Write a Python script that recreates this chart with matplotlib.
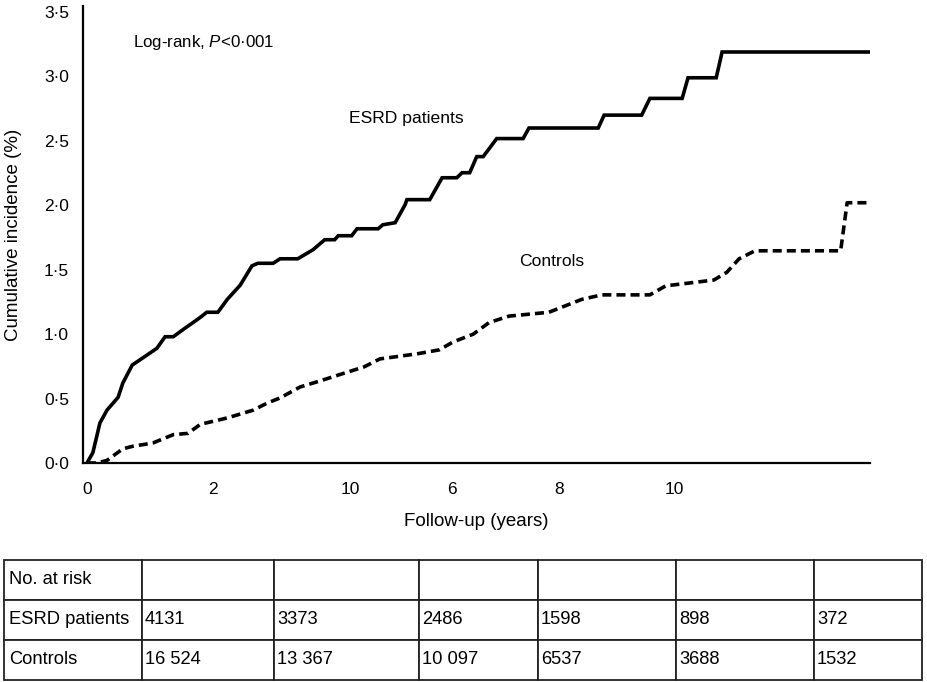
import matplotlib
matplotlib.use("Agg")
import matplotlib.pyplot as plt
import matplotlib.transforms as mtransforms

plt.rcParams['font.family'] = ['Liberation Sans', 'DejaVu Sans']
plt.rcParams['mathtext.fontset'] = 'custom'
plt.rcParams['mathtext.it'] = 'Liberation Sans:italic'
plt.rcParams['mathtext.rm'] = 'Liberation Sans'

# ---- data ----
esrd_years = [0.0, 0.10, 0.22, 0.34, 0.53, 0.61, 0.77, 0.90, 1.19, 1.33, 1.47, 1.62,
              1.93, 2.04, 2.23, 2.39, 2.61, 2.81, 2.91, 3.17, 3.29, 3.59, 3.85, 4.05,
              4.22, 4.28, 4.51, 4.60, 4.96, 5.04, 5.25, 5.42, 5.45, 5.84, 6.05, 6.30,
              6.39, 6.52, 6.64, 6.75, 6.98, 7.43, 7.53, 8.71, 8.81, 9.45, 9.59, 10.14,
              10.24, 10.72, 10.82, 13.32]
esrd_inc = [0.0, 0.08, 0.31, 0.41, 0.51, 0.62, 0.76, 0.80, 0.89, 0.98, 0.98, 1.03,
            1.13, 1.17, 1.17, 1.27, 1.38, 1.53, 1.55, 1.55, 1.585, 1.585, 1.655, 1.733,
            1.733, 1.764, 1.764, 1.818, 1.818, 1.849, 1.865, 2.005, 2.044, 2.044, 2.214, 2.214,
            2.253, 2.253, 2.378, 2.378, 2.518, 2.518, 2.60, 2.60, 2.70, 2.70, 2.83, 2.83,
            2.99, 2.99, 3.19, 3.19]

ctrl_years = [0.0, 0.17, 0.34, 0.61, 0.78, 1.12, 1.47, 1.72, 1.93, 2.39, 2.83, 3.07,
              3.29, 3.63, 3.97, 4.40, 4.72, 4.99, 5.62, 6.00, 6.24, 6.58, 6.85, 7.19,
              7.87, 8.43, 8.77, 9.59, 9.86, 10.68, 10.90, 11.11, 11.38, 12.84, 12.95, 13.32]
ctrl_inc = [0.0, 0.0, 0.02, 0.11, 0.13, 0.155, 0.22, 0.23, 0.30, 0.35, 0.41, 0.465,
            0.505, 0.59, 0.637, 0.70, 0.746, 0.808, 0.847, 0.878, 0.94, 1.0, 1.09, 1.14,
            1.17, 1.27, 1.305, 1.305, 1.375, 1.42, 1.48, 1.585, 1.647, 1.647, 2.02, 2.02]

x_tick_pos = [0, 2.15, 4.48, 6.22, 8.04, 10.0]
x_tick_labels = ['0', '2', '10', '6', '8', '10']
y_ticks = [0.0, 0.5, 1.0, 1.5, 2.0, 2.5, 3.0, 3.5]

table_header = ['No. at risk', '', '', '', '', '', '']
esrd_risk = ['4131', '3373', '2486', '1598', '898', '372']
ctrl_risk = ['16 524', '13 367', '10 097', '6537', '3688', '1532']
row_names = ['ESRD patients', 'Controls']

# ---- figure ----
W, H = 928, 682
fig = plt.figure(figsize=(W / 100, H / 100), dpi=100)
ax = fig.add_axes([83 / W, (H - 463) / H, 787 / W, 457 / H])

ax.plot(esrd_years, esrd_inc, color='black', lw=2.6, solid_joinstyle='miter')
ax.plot(ctrl_years, ctrl_inc, color='black', lw=2.6, dashes=(2.5, 1.4))

ax.set_xlim(-0.068, 13.34)
ax.set_ylim(0, 3.547)
for s in ['top', 'right']:
    ax.spines[s].set_visible(False)
for s in ['left', 'bottom']:
    ax.spines[s].set_linewidth(1.6)
    ax.spines[s].set_color('black')

ax.set_xticks(x_tick_pos)
ax.set_xticklabels(x_tick_labels)
ax.set_yticks(y_ticks)
ax.set_yticklabels([f"{v:.1f}".replace('.', '·') for v in y_ticks])
ax.tick_params(axis='both', length=0, labelsize=12.5)
ax.tick_params(axis='y', pad=10)
ax.tick_params(axis='x', pad=14)

ax.set_xlabel('Follow-up (years)', fontsize=13.5, labelpad=11)
ax.set_ylabel('Cumulative incidence (%)', fontsize=13.5)
ax.yaxis.set_label_coords(-61 / 787, 0.5)

# pixel transform (pixels from top-left corner)
pix = mtransforms.Affine2D().scale(1, -1).translate(0, H)
fig.text(133, 42, r'Log-rank, $P$<0·001', transform=pix, fontsize=12.2, va='center', ha='left')
fig.text(406, 118, 'ESRD patients', transform=pix, fontsize=12.6, va='center', ha='center')
fig.text(552, 262, 'Controls', transform=pix, fontsize=12.6, va='center', ha='center')

# ---- at-risk table ----
col_px = [138, 132, 145, 119, 138, 138, 108]
tab_w = sum(col_px)
tax = fig.add_axes([4 / W, 2 / H, tab_w / W, 120 / H])
tax.axis('off')
cells = [table_header,
         [row_names[0]] + esrd_risk,
         [row_names[1]] + ctrl_risk]
tbl = tax.table(cellText=cells, colWidths=[c / tab_w for c in col_px],
                cellLoc='left', bbox=[0, 0, 1, 1])
tbl.auto_set_font_size(False)
tbl.set_fontsize(13.2)
for (r, c), cell in tbl.get_celld().items():
    cell.set_linewidth(1.3)
    cell.set_edgecolor('#222222')
    cell.PAD = (5 if c == 0 else 3) / col_px[c]

fig.savefig('out.png', dpi=100)
